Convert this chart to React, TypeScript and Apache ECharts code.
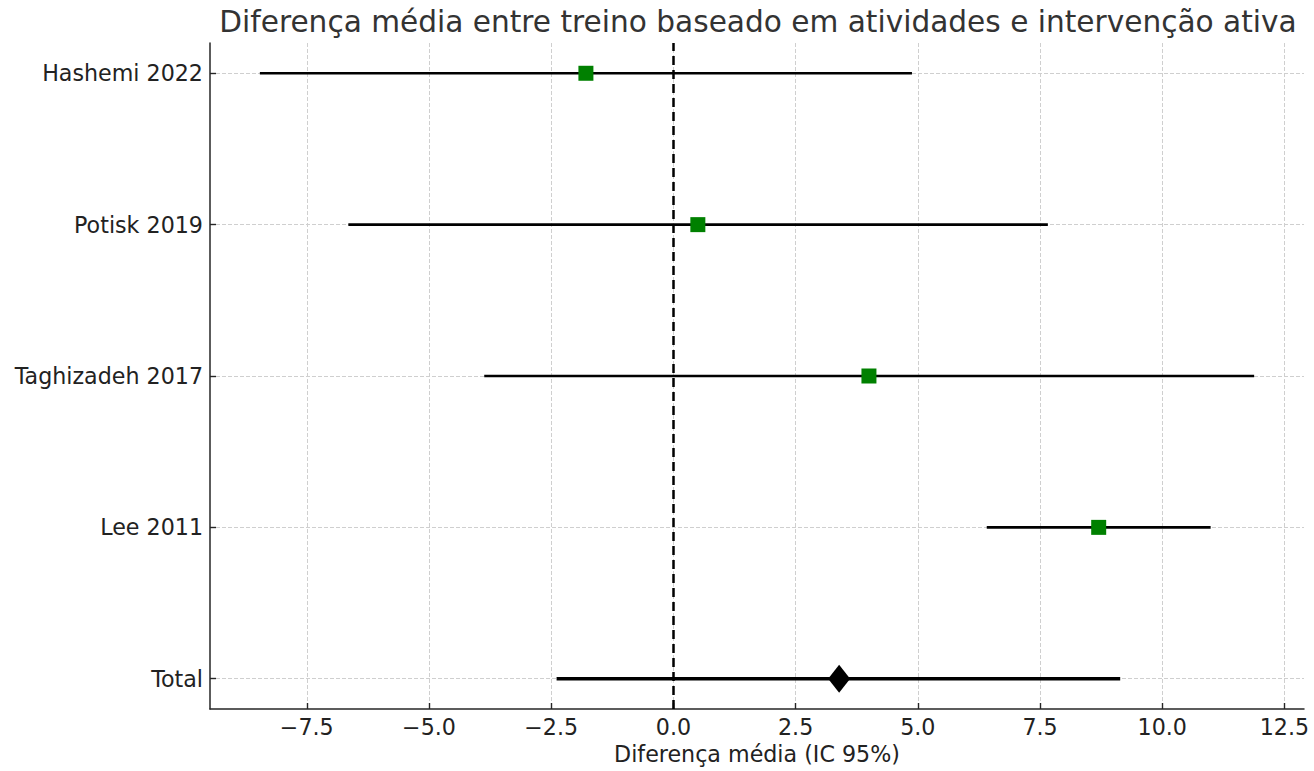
import React, { useEffect, useRef } from "react";
import * as echarts from "echarts";

const TITLE = "Diferença média entre treino baseado em atividades e intervenção ativa";
const X_NAME = "Diferença média (IC 95%)";

const studies = ["Hashemi 2022", "Potisk 2019", "Taghizadeh 2017", "Lee 2011"];
const studyMean = [-1.79, 0.5, 4.0, 8.7];
const studyLow = [-8.46, -6.65, -3.87, 6.41];
const studyHigh = [4.88, 7.66, 11.88, 10.99];

const totalLabel = "Total";
const totalMean = 3.39;
const totalLow = -2.39;
const totalHigh = 9.14;

const xTicks = [-7.5, -5, -2.5, 0, 2.5, 5, 7.5, 10, 12.5];
const xMin = -9.48;
const xMax = 12.9;
const yMin = -0.2;
const yMax = 4.2;

// row position: Total at 0, studies from bottom up (Lee 1 ... Hashemi 4)
const studyRows = studies.map((_, i) => studies.length - i);
const totalRow = 0;
const rowLabels: string[] = [totalLabel, ...studies.slice().reverse()];
const yTicks = rowLabels.map((_, i) => i);

const TXT = "#222222";
const FONT = "DejaVu Sans";
const FS = 22.2;

export default function App() {
  const ref = useRef<HTMLDivElement>(null);
  useEffect(() => {
    if (!ref.current) return;
    const chart = echarts.init(ref.current, undefined, { renderer: "svg" });
    const lineRender = (width: number) => (params: any, api: any) => {
      const lo = api.value(0);
      const hi = api.value(1);
      const y = api.value(2);
      const p1 = api.coord([lo, y]);
      const p2 = api.coord([hi, y]);
      return {
        type: "line",
        shape: { x1: p1[0], y1: p1[1], x2: p2[0], y2: p2[1] },
        style: { stroke: "#000", lineWidth: width },
      };
    };
    chart.setOption({
      animation: false,
      backgroundColor: "#ffffff",
      title: {
        text: TITLE,
        left: 753,
        textAlign: "center",
        top: 2,
        textStyle: { fontFamily: FONT, fontSize: 29.6, fontWeight: "normal", color: "#333333" },
      },
      grid: { left: 210, right: 10, top: 43, bottom: 62, outerBoundsMode: "none", containLabel: false },
      xAxis: {
        type: "value",
        min: xMin,
        max: xMax,
        name: X_NAME,
        nameLocation: "middle",
        nameGap: 32,
        nameTextStyle: { fontFamily: FONT, fontSize: FS, color: TXT },
        axisLine: { show: true, onZero: false, lineStyle: { color: "#262626", width: 1.5 } },
        axisTick: { show: true, inside: true, length: 6, customValues: xTicks, lineStyle: { color: "#262626", width: 1.4 } },
        axisLabel: {
          customValues: xTicks,
          margin: 7,
          fontFamily: FONT,
          fontSize: FS,
          color: TXT,
          formatter: (v: number) => v.toFixed(1).replace("-", "\u2212"),
        },
        splitLine: { show: true, lineStyle: { color: "#cfcfcf", type: [4, 2], width: 1 } },
      },
      yAxis: {
        type: "value",
        min: yMin,
        max: yMax,
        axisLine: { show: true, onZero: false, lineStyle: { color: "#262626", width: 1.5 } },
        axisTick: { show: true, inside: true, length: 6, customValues: yTicks, lineStyle: { color: "#262626", width: 1.4 } },
        axisLabel: {
          customValues: yTicks,
          margin: 7,
          fontFamily: FONT,
          fontSize: FS,
          color: TXT,
          formatter: (v: number) => rowLabels[Math.round(v)] ?? "",
        },
        splitLine: { show: true, lineStyle: { color: "#cfcfcf", type: [4, 2], width: 1 } },
      },
      series: [
        {
          type: "custom",
          renderItem: lineRender(2.7),
          data: studies.map((_, i) => [studyLow[i], studyHigh[i], studyRows[i]]),
          z: 3,
          silent: true,
          markLine: {
            silent: true,
            symbol: "none",
            label: { show: false },
            lineStyle: { color: "#000", type: [9, 5], width: 2.5 },
            data: [{ xAxis: 0 }],
          },
        },
        {
          type: "custom",
          renderItem: lineRender(3.6),
          data: [[totalLow, totalHigh, totalRow]],
          z: 3,
          silent: true,
        },
        {
          type: "scatter",
          symbol: "rect",
          symbolSize: 15,
          itemStyle: { color: "#008000", opacity: 1 },
          data: studies.map((_, i) => [studyMean[i], studyRows[i]]),
          z: 5,
        },
        {
          type: "scatter",
          symbol: "diamond",
          symbolSize: [22, 28],
          itemStyle: { color: "#000000", opacity: 1 },
          data: [[totalMean, totalRow]],
          z: 5,
        },
      ],
    });
    return () => chart.dispose();
  }, []);
  return (
    <div
      ref={ref}
      style={{ position: "fixed", left: 0, top: 0, width: 1314, height: 771, background: "#fff" }}
    />
  );
}
